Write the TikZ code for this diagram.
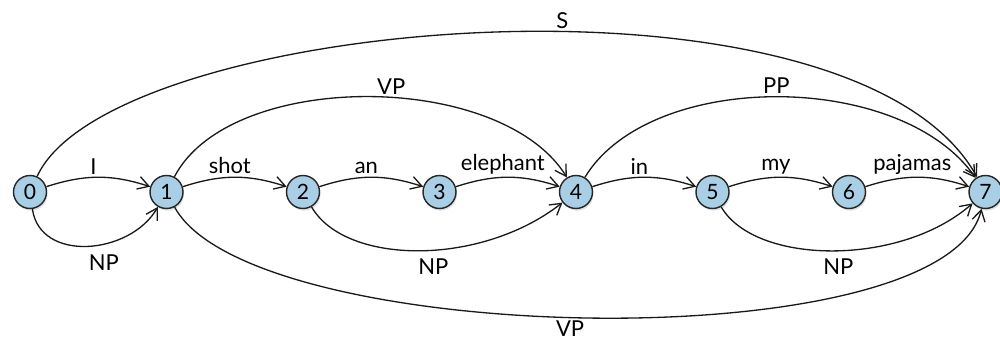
\documentclass[tikz,border=0pt]{standalone}
\usepackage{fontspec}
\setmainfont{Lato}
\usetikzlibrary{arrows.meta,shadows}
\definecolor{nodeblue}{HTML}{A9CFE6}
\tikzset{
  state/.style={circle,draw=black!85,line width=0.8pt,fill=nodeblue,minimum size=0.66cm,inner sep=0pt,
    font=\fontsize{12}{14}\selectfont, drop shadow={opacity=0.25,shadow xshift=0.6pt,shadow yshift=-1.2pt}},
  edge/.style={draw=black!90,line width=0.75pt,-{Straight Barb[length=2.2mm,width=2.6mm]}},
  lab/.style={font=\fontsize{12.5}{14}\selectfont,inner sep=1.5pt}
}
\begin{document}
\begin{tikzpicture}[x=0.02cm,y=0.02cm]
\useasboundingbox (0,0) rectangle (1000,347);
\foreach \i/\x in {0/30,1/166.5,2/303,3/439.5,4/576,5/712.5,6/849,7/985.5}{
  \node[state] (n\i) at (\x,155) {\i};
}
% short edges
\draw[edge] (n0) to[bend left=18] node[lab,above,pos=0.45] {I} (n1);
\draw[edge] (n1) to[bend left=18] node[lab,above,pos=0.45] {shot} (n2);
\draw[edge] (n2) to[bend left=18] node[lab,above,pos=0.45] {an} (n3);
\draw[edge] (n3) to[bend left=18] node[lab,above,pos=0.45] {elephant} (n4);
\draw[edge] (n4) to[bend left=18] node[lab,above,pos=0.45] {in} (n5);
\draw[edge] (n5) to[bend left=18] node[lab,above,pos=0.45] {my} (n6);
\draw[edge] (n6) to[bend left=18] node[lab,above,pos=0.45] {pajamas} (n7);
% lower NP edges
\draw[edge] (n0) .. controls (40,84) and (130,92) .. node[lab,below=4pt,pos=0.6] {NP} (n1);
\draw[edge] (n2) .. controls (345,82) and (480,80) .. node[lab,below=3pt,pos=0.55] {NP} (n4);
\draw[edge] (n5) .. controls (755,82) and (900,80) .. node[lab,below=3pt,pos=0.52] {NP} (n7);
% upper edges
\draw[edge] (n1) .. controls (230,277) and (500,277) .. node[lab,above,pos=0.55] {VP} (n4);
\draw[edge] (n4) .. controls (650,277) and (900,277) .. node[lab,above,pos=0.5] {PP} (n7);
\draw[edge] (n0) .. controls (110,330) and (850,395) .. node[lab,above,pos=0.56] {S} (n7);
% lower VP
\draw[edge] (n1) .. controls (250,0) and (945,-15) .. node[lab,below,pos=0.48] {VP} (n7);
\end{tikzpicture}
\end{document}
